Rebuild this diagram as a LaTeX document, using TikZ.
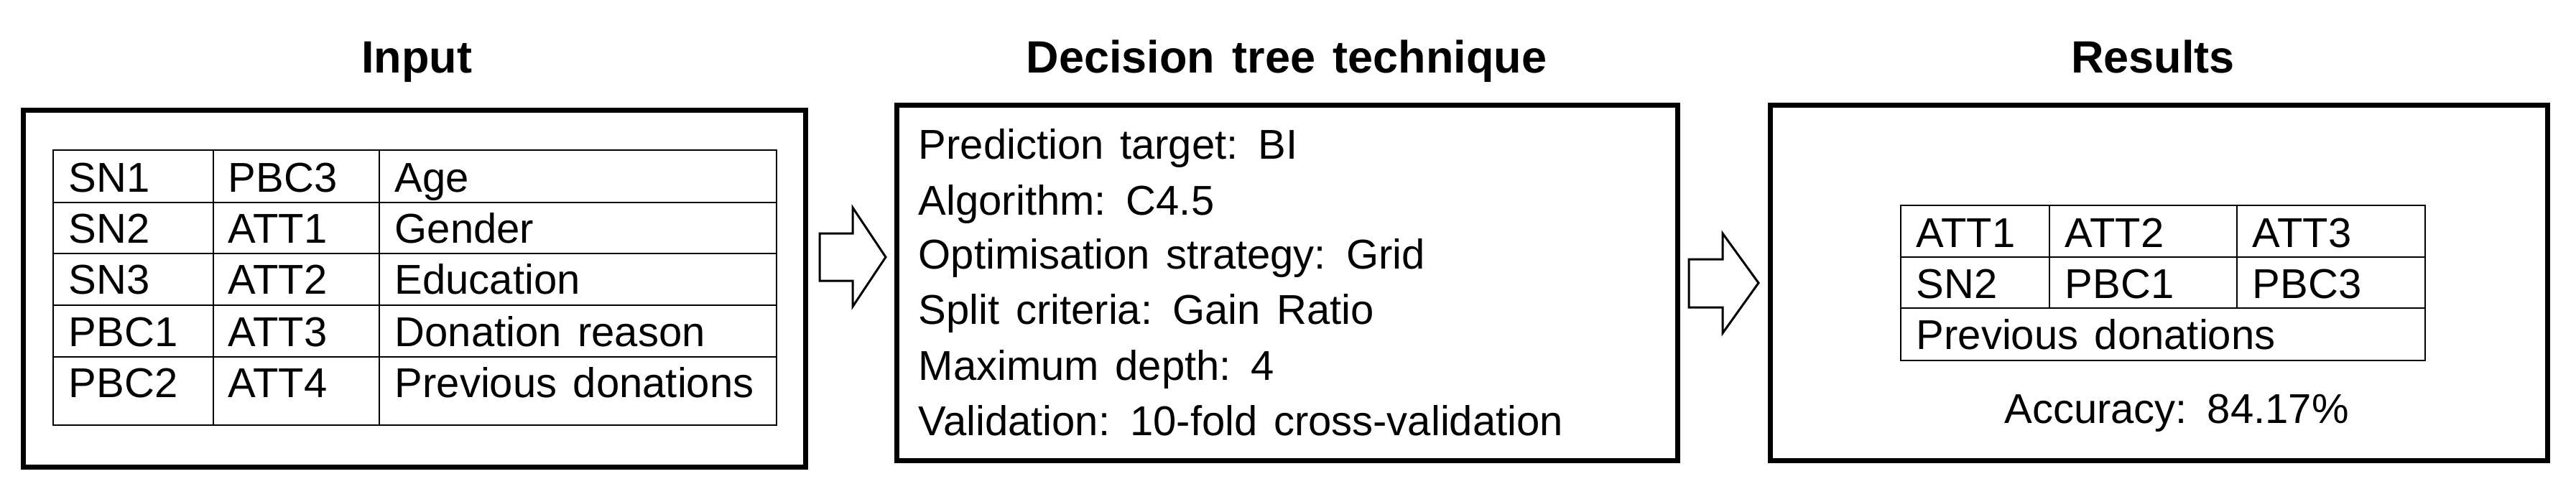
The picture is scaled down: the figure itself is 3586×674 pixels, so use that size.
\documentclass[tikz,border=0pt]{standalone}
\usepackage{fontspec}
\setmainfont{Liberation Sans}[WordSpace=1.4]
\begin{document}
\begin{tikzpicture}[x=0.25pt,y=-0.25pt,
  box/.style={draw, line width=1.75pt, inner sep=0pt},
  grid/.style={line width=0.65pt},
  txt/.style={anchor=base west, inner sep=0pt, font=\fontsize{14.5}{17}\selectfont},
  ctxt/.style={anchor=base, inner sep=0pt, font=\fontsize{14.5}{17}\selectfont},
  ttl/.style={anchor=base, inner sep=0pt, font=\bfseries\fontsize{15.75}{19}\selectfont},
  blockarrow/.style={line width=0.75pt, fill=white, line join=miter}]
\useasboundingbox (0,0) rectangle (3586,674);

% titles
\node[ttl] (t1) at (580,101) {Input};
\node[ttl] (t2) at (1791,101) {Decision tree technique};
\node[ttl] (t3) at (2997,101) {Results};

% boxes
\node[box, minimum width=272.25pt, minimum height=124.25pt] (inbox) at (576.5,401.5) {};
\node[box, minimum width=271.75pt, minimum height=123.75pt] (dtbox) at (1791.5,393.5) {};
\node[box, minimum width=270.5pt, minimum height=123.75pt] (resbox) at (3005,393.5) {};

% block arrows
\draw[blockarrow] (1141,325) -- (1187,325) -- (1187,289) -- (1233,358) -- (1187,427) -- (1187,391) -- (1141,391) -- cycle;
\draw[blockarrow] (2351,361) -- (2398,361) -- (2398,325) -- (2448,394) -- (2398,464) -- (2398,428) -- (2351,428) -- cycle;

% input table
\draw[grid] (74,209) rectangle (1081,592);
\foreach \yy in {282,353,425,497} \draw[grid] (74,\yy) -- (1081,\yy);
\foreach \xx in {297,528} \draw[grid] (\xx,209) -- (\xx,592);
\node[txt] (a11) at (95,267) {SN1};
\node[txt] (a12) at (317,267) {PBC3};
\node[txt] (a13) at (549,267) {Age};
\node[txt] (a21) at (95,338) {SN2};
\node[txt] (a22) at (317,338) {ATT1};
\node[txt] (a23) at (549,338) {Gender};
\node[txt] (a31) at (95,409) {SN3};
\node[txt] (a32) at (317,409) {ATT2};
\node[txt] (a33) at (549,409) {Education};
\node[txt] (a41) at (95,482) {PBC1};
\node[txt] (a42) at (317,482) {ATT3};
\node[txt] (a43) at (549,482) {Donation reason};
\node[txt] (a51) at (95,553) {PBC2};
\node[txt] (a52) at (317,553) {ATT4};
\node[txt] (a53) at (549,553) {Previous donations};

% decision tree text
\node[txt] (d1) at (1278,221) {Prediction target: BI};
\node[txt] (d2) at (1278,299) {Algorithm: C4.5};
\node[txt] (d3) at (1278,374) {Optimisation strategy: Grid};
\node[txt] (d4) at (1278,451) {Split criteria: Gain Ratio};
\node[txt] (d5) at (1278,529) {Maximum depth: 4};
\node[txt] (d6) at (1278,606) {Validation: 10-fold cross-validation};

% results table
\draw[grid] (2646,286) rectangle (3376,502);
\foreach \yy in {358,429} \draw[grid] (2646,\yy) -- (3376,\yy);
\foreach \xx in {2853,3114} \draw[grid] (\xx,286) -- (\xx,429);
\node[txt] (r11) at (2667,344) {ATT1};
\node[txt] (r12) at (2874,344) {ATT2};
\node[txt] (r13) at (3135,344) {ATT3};
\node[txt] (r21) at (2667,415) {SN2};
\node[txt] (r22) at (2874,415) {PBC1};
\node[txt] (r23) at (3135,415) {PBC3};
\node[txt] (r31) at (2667,486) {Previous donations};
\node[ctxt] (acc) at (3030,589) {Accuracy: 84.17\%};
\end{tikzpicture}
\end{document}
